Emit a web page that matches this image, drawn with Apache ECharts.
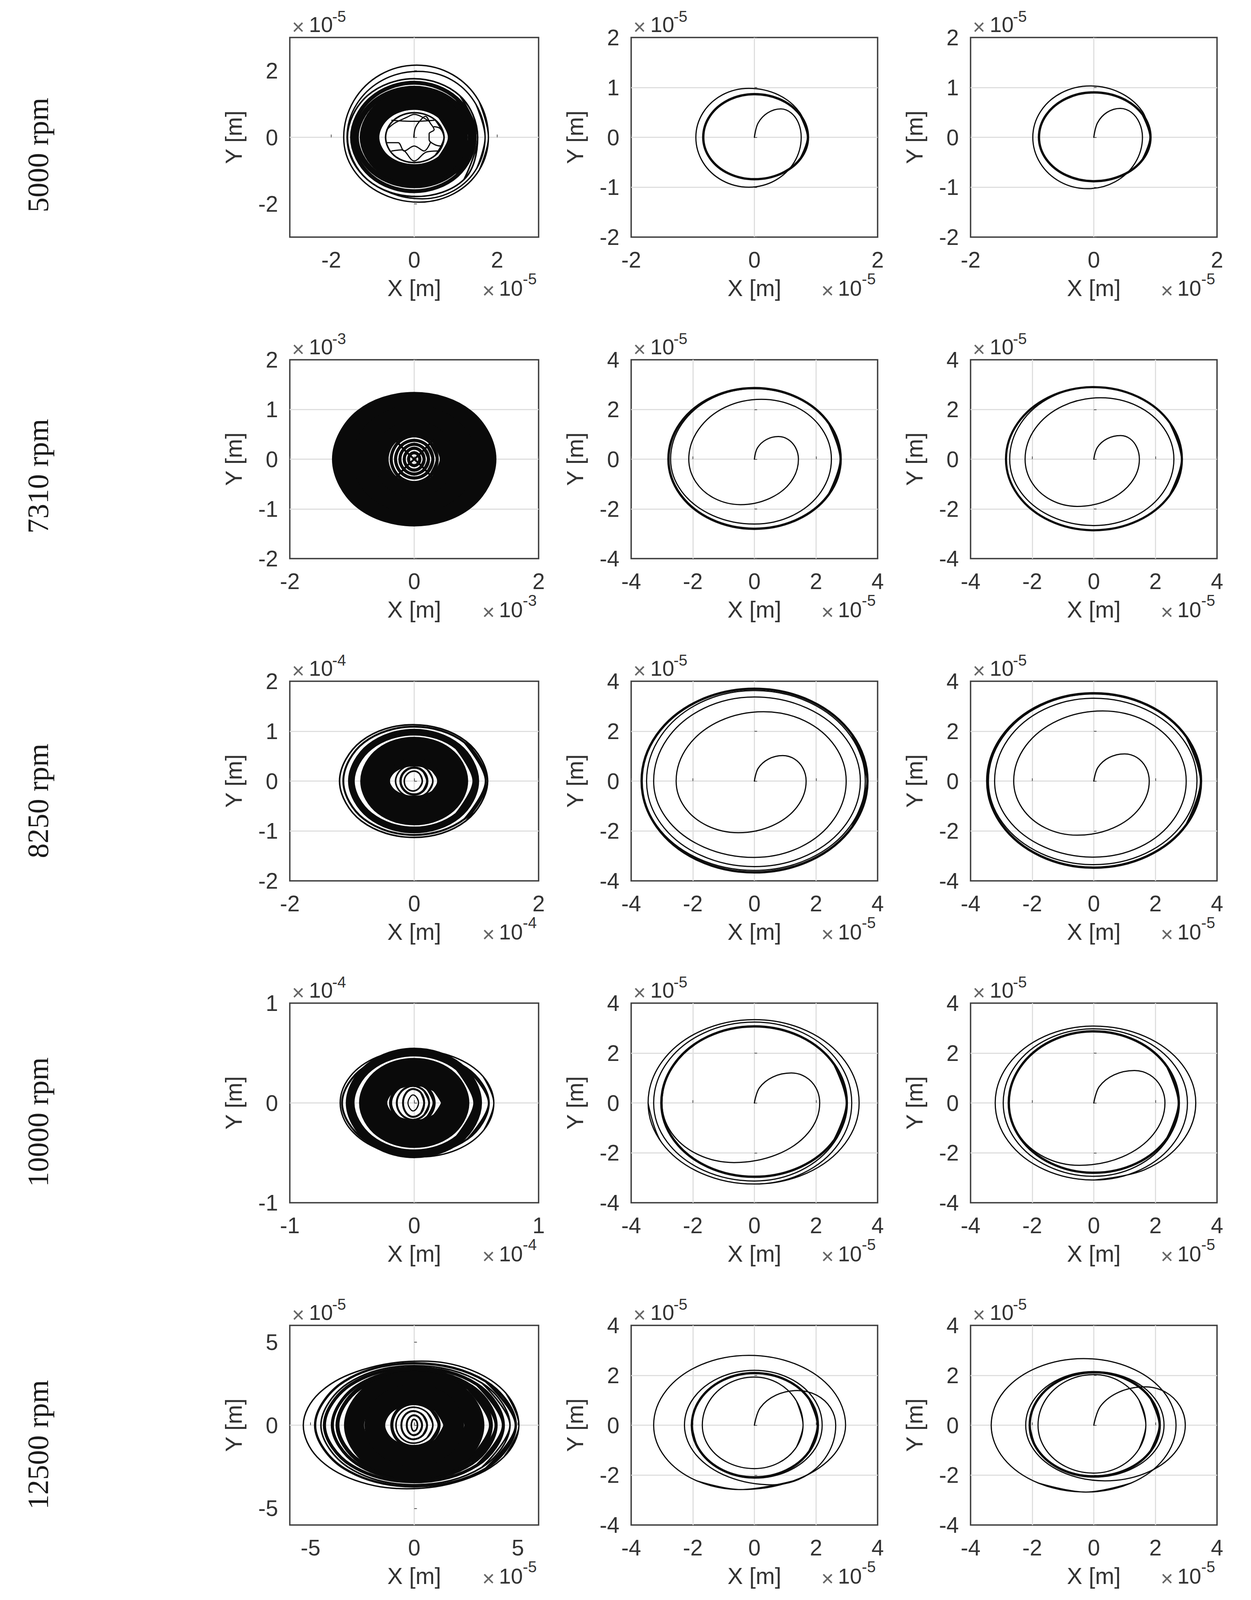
<!DOCTYPE html>
<html><head><meta charset="utf-8">
<style>html,body{margin:0;padding:0;background:#fff;overflow:hidden}#c{width:3203px}</style>
<script src="https://cdn.jsdelivr.net/npm/echarts@6/dist/echarts.min.js"></script>
</head><body><div id="c"></div>
<script>
const rowLabels = ['5000 rpm','7310 rpm','8250 rpm','10000 rpm','12500 rpm'];

// ---- 5000 rpm ----
const r1c1Outer1 = [[1.79,0],[1.57,-.98],[.96,-1.69],[.12,-1.95],[-.79,-1.69],[-1.46,-.98],[-1.7,0],[-1.46,1.09],[-.82,1.88],[.06,2.17],[.93,1.88],[1.56,1.09],[1.79,0]];
const r1c1Outer2 = [[1.71,0],[1.51,-.93],[.96,-1.6],[.2,-1.85],[-.71,-1.6],[-1.38,-.93],[-1.62,0],[-1.39,.99],[-.76,1.72],[.1,1.98],[.91,1.72],[1.49,.99],[1.71,0]];
const r1c1Outer3 = [[1.53,0],[1.2,-1.27],[.05,-1.78],[-1.13,-1.27],[-1.61,0],[-1.13,1.25],[0,1.76],[1.1,1.25],[1.53,0]];
const r1c1Band1 = [[1.46,0],[1.03,-1.15],[0,-1.62],[-1.05,-1.15],[-1.5,0],[-1.05,1.16],[0,1.64],[1.03,1.16],[1.46,0]];
const r1c1Band2 = [[1.36,0],[.96,-1.03],[0,-1.45],[-.98,-1.03],[-1.4,0],[-.98,1.04],[0,1.47],[.96,1.04],[1.36,0]];
const r1c1Solid = [[1.06,0],[.75,-.78],[0,-1.1],[-.76,-.78],[-1.08,0],[-.76,.79],[0,1.12],[.75,.79],[1.06,0]];
const r1c1Inner1 = [[.84,0],[.6,-.61],[0,-.86],[-.61,-.61],[-.87,0],[-.61,.61],[0,.86],[.6,.61],[.84,0]];
const r1c1Inner2 = [[.72,0],[.51,-.54],[0,-.76],[-.49,-.54],[-.69,0],[-.49,.52],[0,.74],[.51,.52],[.72,0]];
const r1c1Sq1 = [[-.01,0],[.03,.29],[.15,.51],[.27,.63],[.39,.42],[.48,.23],[.36,.11],[.36,-.07],[.48,-.21],[.63,-.26],[.72,0],[.63,.26],[.48,.32]];
const r1c1Sq2 = [[-.66,.23],[-.48,.42],[-.18,.6],[0,.69],[.36,.48]];
const r1c1Sq3 = [[-.54,.51],[0,.48],[.48,.51]];
const r1c1Sq4 = [[-.66,-.16],[-.39,-.16],[-.24,-.41],[0,-.26],[.24,-.41],[.39,-.16]];
const r1c1Sq5 = [[-.54,-.41],[-.3,-.38],[0,-.71],[.3,-.44],[.57,-.41]];

const r1c2Path = [[0,0],[.06,.285],[.215,.49],[.43,.57],[.595,.49],[.716,.285],[.76,0],[.646,-.5],[.335,-.866],[-.09,-1],[-.52,-.866],[-.835,-.5],[-.95,0],[-.835,.49],[-.52,.85],[-.09,.98],[.39,.85],[.74,.49],[.87,0]];
const r1c2Limit = [[.87,0],[.753,-.42],[.435,-.727],[0,-.84],[-.415,-.727],[-.719,-.42],[-.83,0],[-.719,.433],[-.415,.749],[0,.865],[.435,.749],[.753,.433],[.87,0]];
const r1c3Path = [[0,0],[.06,.29],[.215,.5],[.43,.58],[.61,.5],[.74,.29],[.79,0],[.67,-.515],[.345,-.892],[-.1,-1.03],[-.545,-.892],[-.87,-.515],[-.99,0],[-.865,.515],[-.525,.892],[-.06,1.03],[.43,.892],[.79,.515],[.92,0]];
const r1c3Limit = [[.92,0],[.797,-.44],[.46,-.762],[0,-.88],[-.445,-.762],[-.771,-.44],[-.89,0],[-.771,.45],[-.445,.779],[0,.9],[.46,.779],[.797,.45],[.92,0]];

// ---- 7310 rpm ----
const r2c1Ring1 = [[1.16,0],[.82,-.82],[0,-1.15],[-.82,-.82],[-1.16,0],[-.82,.82],[0,1.15],[.82,.82],[1.16,0]];
const r2c1Ring2 = [[.82,0],[.58,-.6],[0,-.86],[-.58,-.6],[-.82,0],[-.58,.6],[0,.86],[.58,.6],[.82,0]];
const r2c1Ring3 = [[.53,0],[.38,-.44],[0,-.63],[-.38,-.44],[-.53,0],[-.38,.44],[0,.63],[.38,.44],[.53,0]];
const r2c1Tex1 = [[.37,0],[.26,-.33],[0,-.47],[-.26,-.33],[-.37,0],[-.26,.33],[0,.47],[.26,.33],[.37,0]];
const r2c1Tex2 = [[.3,0],[.21,-.27],[0,-.38],[-.21,-.27],[-.3,0],[-.21,.27],[0,.38],[.21,.27],[.3,0]];
const r2c1Tex3 = [[.23,0],[.16,-.21],[0,-.3],[-.16,-.21],[-.23,0],[-.16,.21],[0,.3],[.16,.21],[.23,0]];
const r2c1Tex4 = [[.16,0],[.11,-.155],[0,-.22],[-.11,-.155],[-.16,0],[-.11,.155],[0,.22],[.11,.155],[.16,0]];
const r2c1Tex5 = [[.09,0],[.064,-.09],[0,-.13],[-.064,-.09],[-.09,0],[-.064,.09],[0,.13],[.064,.09],[.09,0]];
const r2c1Cross1 = [[-.3,-.38],[-.12,-.14],[0,0],[.12,.14],[.3,.38]];
const r2c1Cross2 = [[-.3,.38],[-.12,.14],[0,0],[.12,-.14],[.3,-.38]];

const r2c2Path = [[0,0],[.1,.455],[.39,.79],[.78,.91],[1.1,.79],[1.34,.455],[1.43,0],[1.18,-.92],[.49,-1.58],[-.45,-1.83],[-1.29,-1.58],[-1.9,-.92],[-2.13,0],[-1.81,1.2],[-.95,2.09],[.23,2.41],[1.37,2.09],[2.2,1.2],[2.5,0],[2.165,-1.305],[1.25,-2.26],[0,-2.61],[-1.36,-2.26],[-2.355,-1.305],[-2.72,0],[-2.355,1.42],[-1.36,2.46],[0,2.84],[1.4,2.46],[2.425,1.42],[2.8,0]];
const r2c2Limit = [[2.8,0],[2.425,-1.4],[1.4,-2.425],[0,-2.8],[-1.395,-2.425],[-2.416,-1.4],[-2.79,0],[-2.416,1.43],[-1.395,2.477],[0,2.86],[1.4,2.477],[2.425,1.43],[2.8,0]];
const r2c3Path = [[0,0],[.117,.475],[.435,.823],[.87,.95],[1.175,.823],[1.398,.475],[1.48,0],[1.21,-.95],[.47,-1.645],[-.54,-1.9],[-1.385,-1.645],[-2.004,-.95],[-2.23,0],[-1.9,1.235],[-1.005,2.14],[.22,2.47],[1.41,2.14],[2.28,1.235],[2.6,0],[2.25,-1.335],[1.3,-2.312],[0,-2.67],[-1.365,-2.312],[-2.364,-1.335],[-2.73,0],[-2.364,1.45],[-1.365,2.511],[0,2.9],[1.43,2.511],[2.477,1.45],[2.86,0]];
const r2c3Limit = [[2.86,0],[2.477,-1.43],[1.43,-2.477],[0,-2.86],[-1.425,-2.477],[-2.468,-1.43],[-2.85,0],[-2.468,1.45],[-1.425,2.511],[0,2.9],[1.43,2.511],[2.477,1.45],[2.86,0]];

// ---- 8250 rpm ----
const r3c1Out1 = [[1.18,0],[.83,-.8],[0,-1.13],[-.85,-.8],[-1.2,0],[-.85,.8],[-.02,1.13],[.83,.8],[1.18,0]];
const r3c1Out2 = [[1.15,0],[.81,-.76],[0,-1.08],[-.81,-.76],[-1.14,0],[-.81,.77],[0,1.09],[.81,.77],[1.15,0]];
const r3c1Band = [[.99,0],[.7,-.69],[0,-.98],[-.71,-.69],[-1.01,0],[-.71,.69],[0,.98],[.7,.69],[.99,0]];
const r3c1Solid = [[.63,0],[.445,-.417],[0,-.59],[-.445,-.417],[-.63,0],[-.445,.417],[0,.59],[.445,.417],[.63,0]];
const r3c1C1 = [[.4,0],[.28,-.3],[0,-.43],[-.29,-.3],[-.42,0],[-.29,.3],[0,.42],[.28,.3],[.4,0]];
const r3c1C2 = [[.3,0],[.21,-.23],[0,-.33],[-.21,-.23],[-.3,0],[-.21,.23],[0,.33],[.21,.23],[.3,0]];
const r3c1C3 = [[.21,0],[.15,-.19],[0,-.27],[-.155,-.19],[-.22,0],[-.155,.19],[0,.27],[.15,.19],[.21,0]];
const r3c1C4 = [[.13,0],[.08,-.14],[-.02,-.2],[-.12,-.14],[-.16,0],[-.11,.14],[0,.2],[.09,.14],[.13,0]];
const r3c2Path = [[0,0],[.123,.51],[.46,.883],[.92,1.02],[1.3,.883],[1.578,.51],[1.68,0],[1.385,-1.035],[.58,-1.79],[-.52,-2.07],[-1.53,-1.79],[-2.27,-1.035],[-2.54,0],[-2.16,1.39],[-1.12,2.41],[.3,2.78],[1.64,2.41],[2.62,1.39],[2.98,0],[2.58,-1.53],[1.49,-2.65],[0,-3.06],[-1.635,-2.65],[-2.832,-1.53],[-3.27,0],[-2.832,1.685],[-1.635,2.918],[0,3.37],[1.72,2.918],[2.979,1.685],[3.44,0],[2.979,-1.715],[1.72,-2.97],[0,-3.43],[-1.75,-2.97],[-3.031,-1.715],[-3.5,0],[-3.031,1.815],[-1.75,3.144],[0,3.63],[1.8,3.144],[3.118,1.815],[3.6,0],[3.118,-1.79],[1.8,-3.1],[0,-3.58],[-1.83,-3.1],[-3.17,-1.79],[-3.66,0],[-3.17,1.85],[-1.83,3.204],[0,3.7],[1.835,3.204],[3.178,1.85],[3.67,0]];
const r3c2Limit = [[3.67,0],[3.178,-1.83],[1.835,-3.17],[0,-3.66],[-1.83,-3.17],[-3.17,-1.83],[-3.66,0],[-3.17,1.85],[-1.83,3.204],[0,3.7],[1.835,3.204],[3.178,1.85],[3.67,0]];
const r3c3Path = [[0,0],[.134,.545],[.5,.944],[1,1.09],[1.4,.944],[1.693,.545],[1.8,0],[1.486,-1.085],[.63,-1.879],[-.54,-2.17],[-1.57,-1.879],[-2.324,-1.085],[-2.6,0],[-2.213,1.405],[-1.155,2.434],[.29,2.81],[1.645,2.434],[2.637,1.405],[3,0],[2.598,-1.525],[1.5,-2.641],[0,-3.05],[-1.61,-2.641],[-2.789,-1.525],[-3.22,0],[-2.789,1.66],[-1.61,2.875],[0,3.32],[1.675,2.875],[2.901,1.66],[3.35,0],[2.901,-1.675],[1.675,-2.901],[0,-3.35],[-1.71,-2.901],[-2.962,-1.675],[-3.42,0],[-2.962,1.745],[-1.71,3.022],[0,3.49],[1.74,3.022],[3.014,1.745],[3.48,0]];
const r3c3Limit = [[3.48,0],[3.014,-1.735],[1.74,-3.005],[0,-3.47],[-1.73,-3.005],[-2.996,-1.735],[-3.46,0],[-2.996,1.76],[-1.73,3.048],[0,3.52],[1.74,3.048],[3.014,1.76],[3.48,0]];

// ---- 10000 rpm ----
const r4c1Out1 = [[.64,0],[.561,-.27],[.345,-.468],[.05,-.54],[-.273,-.468],[-.509,-.27],[-.595,0],[-.515,.265],[-.298,.459],[0,.53],[.32,.459],[.554,.265],[.64,0]];
const r4c1Out2 = [[.6,0],[.43,-.36],[0,-.52],[-.41,-.36],[-.58,0],[-.41,.35],[0,.5],[.42,.35],[.6,0]];
const r4c1Band = [[.51,0],[.36,-.36],[0,-.51],[-.36,-.36],[-.515,0],[-.36,.36],[0,.51],[.36,.36],[.51,0]];
const r4c1Solid = [[.33,0],[.233,-.219],[0,-.31],[-.233,-.219],[-.33,0],[-.233,.219],[0,.31],[.233,.219],[.33,0]];
const r4c1C1 = [[.16,0],[.11,-.14],[-.01,-.2],[-.135,-.14],[-.19,0],[-.135,.14],[-.01,.2],[.11,.14],[.16,0]];
const r4c1C2 = [[.12,0],[.08,-.12],[-.01,-.17],[-.1,-.12],[-.14,0],[-.1,.12],[-.01,.17],[.08,.12],[.12,0]];
const r4c1C3 = [[.08,0],[.055,-.1],[-.01,-.14],[-.065,-.1],[-.09,0],[-.065,.1],[-.01,.14],[.055,.1],[.08,0]];
const r4c1C4 = [[.035,0],[.02,-.055],[-.01,-.08],[-.035,-.055],[-.05,0],[-.035,.055],[-.01,.08],[.02,.055],[.035,0]];
const r4c2Path = [[0,0],[.16,.6],[.6,1.04],[1.2,1.2],[1.66,1.04],[2,.6],[2.12,0],[1.75,-1.195],[.73,-2.07],[-.66,-2.39],[-1.83,-2.07],[-2.69,-1.195],[-3,0],[-2.598,1.535],[-1.5,2.659],[0,3.07],[1.5,2.659],[2.598,1.535],[3,0],[2.598,-1.565],[1.5,-2.71],[0,-3.13],[-1.635,-2.71],[-2.832,-1.565],[-3.27,0],[-2.832,1.62],[-1.635,2.806],[0,3.24],[1.58,2.806],[2.737,1.62],[3.16,0],[2.737,-1.625],[1.58,-2.815],[0,-3.25],[-1.725,-2.815],[-2.988,-1.625],[-3.45,0],[-2.988,1.67],[-1.725,2.892],[0,3.34],[1.7,2.892],[2.944,1.67],[3.4,0],[2.944,-1.625],[1.7,-2.815],[0,-3.25],[-1.725,-2.815],[-2.988,-1.625],[-3.45,0]];
const r4c2Limit = [[3,0],[2.598,-1.48],[1.5,-2.563],[0,-2.96],[-1.51,-2.563],[-2.615,-1.48],[-3.02,0],[-2.615,1.535],[-1.51,2.659],[0,3.07],[1.5,2.659],[2.598,1.535],[3,0]];
const r4c3Path = [[0,0],[.177,.65],[.66,1.126],[1.32,1.3],[1.815,1.126],[2.177,.65],[2.31,0],[1.937,-1.25],[.92,-2.165],[-.47,-2.5],[-1.615,-2.165],[-2.453,-1.25],[-2.76,0],[-2.39,1.435],[-1.38,2.485],[0,2.87],[1.38,2.485],[2.39,1.435],[2.76,0],[2.39,-1.47],[1.38,-2.546],[0,-2.94],[-1.47,-2.546],[-2.546,-1.47],[-2.94,0],[-2.546,1.485],[-1.47,2.572],[0,2.97],[1.52,2.572],[2.633,1.485],[3.04,0],[2.633,-1.545],[1.52,-2.676],[0,-3.09],[-1.6,-2.676],[-2.771,-1.545],[-3.2,0],[-2.771,1.54],[-1.6,2.667],[0,3.08],[1.655,2.667],[2.867,1.54],[3.31,0],[2.867,-1.545],[1.655,-2.676],[0,-3.09]];
const r4c3Limit = [[2.76,0],[2.39,-1.4],[1.38,-2.425],[0,-2.8],[-1.38,-2.425],[-2.39,-1.4],[-2.76,0],[-2.39,1.435],[-1.38,2.485],[0,2.87],[1.38,2.485],[2.39,1.435],[2.76,0]];

// ---- 12500 rpm ----
const r5c1Out1 = [[5.05,0],[4.325,-1.91],[2.345,-3.308],[-.36,-3.82],[-2.855,-3.308],[-4.681,-1.91],[-5.35,0],[-4.585,1.925],[-2.495,3.334],[.36,3.85],[2.705,3.334],[4.422,1.925],[5.05,0]];
const r5c1Out2 = [[4.9,0],[3.46,-2.6],[0,-3.68],[-3.38,-2.6],[-4.78,0],[-3.38,2.63],[0,3.72],[3.46,2.63],[4.9,0]];
const r5c1Out3 = [[4.62,0],[3.27,-2.53],[0,-3.58],[-3.18,-2.53],[-4.5,0],[-3.18,2.53],[0,3.58],[3.27,2.53],[4.62,0]];
const r5c1Band1 = [[4.3,0],[3.04,-2.4],[0,-3.4],[-3.06,-2.4],[-4.33,0],[-3.06,2.44],[0,3.45],[3.04,2.44],[4.3,0]];
const r5c1Band2 = [[3.95,0],[2.79,-2.3],[0,-3.25],[-2.79,-2.3],[-3.95,0],[-2.79,2.33],[0,3.3],[2.79,2.33],[3.95,0]];
const r5c1Band3 = [[3.7,0],[2.62,-2.19],[0,-3.1],[-2.62,-2.19],[-3.7,0],[-2.62,2.23],[0,3.15],[2.62,2.23],[3.7,0]];
const r5c1Solid1 = [[2.9,0],[2.05,-1.87],[0,-2.65],[-2.05,-1.87],[-2.9,0],[-2.05,1.87],[0,2.65],[2.05,1.87],[2.9,0]];
const r5c1Solid2 = [[1.9,0],[1.34,-1.31],[0,-1.85],[-1.34,-1.31],[-1.9,0],[-1.34,1.31],[0,1.85],[1.34,1.31],[1.9,0]];
const r5c1C1 = [[1.2,0],[.82,-.91],[-.05,-1.28],[-.78,-.91],[-1.08,0],[-.78,.92],[-.03,1.3],[.82,.92],[1.2,0]];
const r5c1C2 = [[.9,0],[.62,-.76],[-.05,-1.08],[-.63,-.76],[-.88,0],[-.63,.76],[-.05,1.08],[.62,.76],[.9,0]];
const r5c1C3 = [[.62,0],[.42,-.6],[-.05,-.85],[-.45,-.6],[-.62,0],[-.45,.6],[-.05,.85],[.42,.6],[.62,0]];
const r5c1C4 = [[.38,0],[.26,-.42],[-.02,-.6],[-.26,-.42],[-.36,0],[-.26,.42],[-.02,.6],[.26,.42],[.38,0]];
const r5c1C5 = [[.16,0],[.11,-.25],[-.02,-.35],[-.1,-.25],[-.14,0],[-.1,.25],[-.02,.35],[.11,.25],[.16,0]];

const r5c2Arm = [[0,0],[.188,.695],[.7,1.204],[1.4,1.39],[2.02,1.204],[2.474,.695],[2.64,0],[2.364,-1.195],[1.61,-2.07],[.58,-2.39],[-.845,-2.07],[-1.888,-1.195],[-2.27,0],[-1.966,1.1],[-1.135,1.905],[0,2.2],[1.1,1.905],[1.905,1.1],[2.2,0],[1.905,-1.06],[1.1,-1.836],[0,-2.12],[-1.015,-1.836],[-1.758,-1.06],[-2.03,0]];
const r5c2Large = [[-.45,-2.58],[-1.86,-2.234],[-2.892,-1.29],[-3.27,0],[-2.856,1.4],[-1.725,2.425],[-.18,2.8],[1.39,2.425],[2.54,1.4],[2.96,0],[2.503,-1.29],[1.255,-2.234],[-.45,-2.58]];
const r5c2Ring = [[2.06,0],[1.784,-1.045],[1.03,-1.81],[0,-2.09],[-1.015,-1.81],[-1.758,-1.045],[-2.03,0],[-1.758,1.045],[-1.015,1.81],[0,2.09],[1.03,1.81],[1.784,1.045],[2.06,0]];
const r5c2Inner = [[1.58,0],[1.368,-.87],[.79,-1.507],[0,-1.74],[-.845,-1.507],[-1.464,-.87],[-1.69,0],[-1.464,.965],[-.845,1.671],[0,1.93],[.79,1.671],[1.368,.965],[1.58,0]];
const r5c3Arm = [[0,0],[.222,.77],[.83,1.334],[1.66,1.54],[2.315,1.334],[2.794,.77],[2.97,0],[2.62,-1.115],[1.665,-1.931],[.36,-2.23],[-.925,-1.931],[-1.866,-1.115],[-2.21,0],[-1.914,1.075],[-1.105,1.862],[0,2.15],[1.14,1.862],[1.975,1.075],[2.28,0],[1.975,-1.04],[1.14,-1.801],[0,-2.08],[-1.04,-1.801],[-1.801,-1.04],[-2.08,0]];
const r5c3Large = [[-.26,-2.68],[-1.795,-2.321],[-2.919,-1.34],[-3.33,0],[-2.928,1.335],[-1.83,2.312],[-.33,2.67],[1.17,2.312],[2.268,1.335],[2.67,0],[2.277,-1.34],[1.205,-2.321],[-.26,-2.68]];
const r5c3Ring = [[2.14,0],[1.853,-1.025],[1.07,-1.775],[0,-2.05],[-1.04,-1.775],[-1.801,-1.025],[-2.08,0],[-1.801,1.06],[-1.04,1.836],[0,2.12],[1.07,1.836],[1.853,1.06],[2.14,0]];
const r5c3Inner = [[1.69,0],[1.464,-.96],[.845,-1.663],[0,-1.92],[-.905,-1.663],[-1.567,-.96],[-1.81,0],[-1.567,1.015],[-.905,1.758],[0,2.03],[.845,1.758],[1.464,1.015],[1.69,0]];

// ---- tick values per panel: limit, x ticks, y ticks, exponent ----
const T2 = [-2,0,2], T21 = [-2,-1,0,1,2], T4 = [-4,-2,0,2,4], T1 = [-1,0,1], T5 = [-5,0,5];
const panelLimits = [3,2,2, 2,4,4, 2,4,4, 1,4,4, 6,4,4];
const panelXTicks = [T2,T2,T2, T2,T4,T4, T2,T4,T4, T1,T4,T4, T5,T4,T4];
const panelYTicks = [T2,T21,T21, T21,T4,T4, T21,T4,T4, T1,T4,T4, T5,T4,T4];
const panelExp = ['-5','-5','-5', '-3','-5','-5', '-4','-5','-5', '-4','-5','-5', '-5','-5','-5'];

// each curve: [points, lineWidth]
const panelCurves = [
 [[r1c1Outer1,3.5],[r1c1Outer2,3.5],[r1c1Outer3,4],[r1c1Band1,10],[r1c1Band2,16],[r1c1Solid,58],[r1c1Inner1,6],[r1c1Inner2,4],[r1c1Sq1,3],[r1c1Sq2,3],[r1c1Sq3,3],[r1c1Sq4,3],[r1c1Sq5,3]],
 [[r1c2Path,3],[r1c2Limit,6]],
 [[r1c3Path,3],[r1c3Limit,6]],
 [[r2c1Ring1,60],[r2c1Ring2,68],[r2c1Ring3,44],[r2c1Tex1,8],[r2c1Tex2,8],[r2c1Tex3,8],[r2c1Tex4,8],[r2c1Tex5,8],[r2c1Cross1,5],[r2c1Cross2,5]],
 [[r2c2Path,3],[r2c2Limit,6]],
 [[r2c3Path,3],[r2c3Limit,5.5]],
 [[r3c1Out1,4],[r3c1Out2,5],[r3c1Band,20],[r3c1Solid,88],[r3c1C1,10],[r3c1C2,4],[r3c1C3,6],[r3c1C4,4]],
 [[r3c2Path,3],[r3c2Limit,6]],
 [[r3c3Path,3],[r3c3Limit,6]],
 [[r4c1Out1,3.5],[r4c1Out2,5],[r4c1Band,26],[r4c1Solid,84],[r4c1C1,8],[r4c1C2,5],[r4c1C3,5],[r4c1C4,3]],
 [[r4c2Path,3],[r4c2Limit,6]],
 [[r4c3Path,3],[r4c3Limit,6]],
 [[r5c1Out1,3.5],[r5c1Out2,6],[r5c1Out3,4],[r5c1Band1,8],[r5c1Band2,8],[r5c1Band3,10],[r5c1Solid1,60],[r5c1Solid2,62],[r5c1C1,8],[r5c1C2,4],[r5c1C3,5],[r5c1C4,5],[r5c1C5,4]],
 [[r5c2Arm,3],[r5c2Large,3],[r5c2Ring,6],[r5c2Inner,3]],
 [[r5c3Arm,3],[r5c3Large,3],[r5c3Ring,6],[r5c3Inner,3]]
];

// ---- layout: reference pixels, fitted to the height the window really has ----
const REF_H = 5534;
const pageH = Math.min(REF_H, window.innerHeight || REF_H);
const k = pageH / REF_H;      // vertical fit
const f = Math.sqrt(k);       // fonts and heavy strokes
const colLeft = [742,1616,2485], colRight = [1379,2247,3116];
const rowTop = [130,1244,2356,3470,4584], rowBottom = [820,1932,3047,4160,5274];
const rowLabelY = [536,1647,2770,3881,4997];
const SANS = '"Liberation Sans", Arial, sans-serif';
const INK = '#333333';
document.getElementById('c').style.height = pageH + 'px';

const grid=[], xAxis=[], yAxis=[], series=[], graphic=[];
function axisCfg(lim, ticks, isX){
  const step = ticks[1]-ticks[0];
  const cfg = {
    type:'value', gridIndex:grid.length-1, min:-lim, max:lim,
    axisLine:{show:false},
    axisTick:{show:true,inside:true,length:7,lineStyle:{color:'#555',width:2}},
    splitLine:{show:true,showMinLine:false,showMaxLine:false,lineStyle:{color:'#dfdfdf',width:3}},
    axisLabel:{show:true,color:INK,fontFamily:SANS,fontSize:Math.round(66*f),hideOverlap:false,showMinLabel:true,showMaxLabel:true,margin:isX?Math.round(78*k-33*f):30},
    name:isX?'X [m]':'Y [m]', nameLocation:'center', nameGap:isX?Math.round(176*k-34*f):Math.round(143-34*f),
    nameTextStyle:{color:INK,fontFamily:SANS,fontSize:Math.round(68*f)}
  };
  if (lim % step === 0) cfg.interval = step;
  else { cfg.axisTick.customValues = ticks; cfg.axisLabel.customValues = ticks; }
  return cfg;
}
function txt(x,y,text,size,align,color,rot,font){
  graphic.push({type:'text',x,y,rotation:rot||0,silent:true,z:100,
    style:{text,fill:color||INK,font:Math.round(size*f)+'px '+(font||SANS),textAlign:align||'left',textVerticalAlign:'middle'}});
}
// a closed orbit gets one extra point at each end so the seam stays smooth
function orbit(pts){
  const n=pts.length, a=pts[0], b=pts[n-1];
  return (a[0]===b[0]&&a[1]===b[1]) ? [pts[n-2],...pts,pts[1]] : pts;
}
for(let r=0;r<5;r++){
  for(let c=0;c<3;c++){
    const p=r*3+c, L=colLeft[c], R=colRight[c], T=Math.round(rowTop[r]*k), B=Math.round(rowBottom[r]*k);
    grid.push({left:L,top:T,width:R-L,height:B-T,show:true,borderColor:'#3d3d3d',borderWidth:3.5,backgroundColor:'#fff'});
    xAxis.push(axisCfg(panelLimits[p],panelXTicks[p],true));
    yAxis.push(axisCfg(panelLimits[p],panelYTicks[p],false));
    panelCurves[p].forEach(([pts,lw])=>{
      series.push({type:'line',xAxisIndex:p,yAxisIndex:p,data:orbit(pts),smooth:0.36,showSymbol:false,symbol:'none',silent:true,clip:false,
        animation:false,lineStyle:{color:'#0a0a0a',width:lw>=16?lw*f:lw,cap:'round',join:'round'}});
    });
    // top exponent
    const top10 = T-(18*k+23*f);
    txt(L+25*f,T-(18*k+16*f),'×',64,'center','#666666');
    txt(L+57*f,top10,'10',64);
    txt(L+126*f,top10-24*f,panelExp[p],46);
    // bottom exponent
    const base = B+204*k;
    txt(R-149*f,base-16*f,'×',64,'center','#666666');
    txt(R-118*f,base-23*f,'10',64);
    txt(R-47*f,base-51*f,panelExp[p],46);
  }
  txt(97,rowLabelY[r]*k,rowLabels[r],88,'center','#1a1a1a',Math.PI/2,'"Liberation Serif", serif');
}
const chart=echarts.init(document.getElementById('c'),null,{renderer:'svg',width:3203,height:pageH});
chart.setOption({backgroundColor:'#ffffff',animation:false,grid,xAxis,yAxis,series,graphic:{elements:graphic}});
</script></body></html>
